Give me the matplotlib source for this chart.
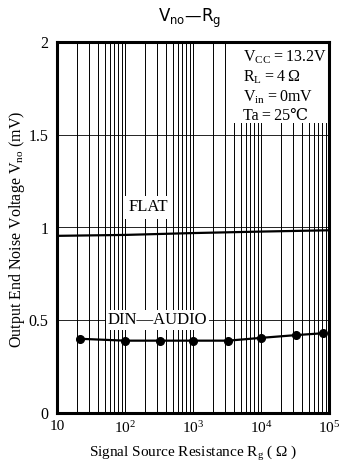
import matplotlib
matplotlib.use("Agg")
import matplotlib.pyplot as plt
from matplotlib.ticker import FixedLocator, NullFormatter
from matplotlib.patches import Rectangle

rg_din = [22, 100, 330, 1000, 3300, 10000, 33000, 82000]
vno_din = [0.40, 0.39, 0.39, 0.39, 0.39, 0.405, 0.42, 0.43]
rg_flat = [10, 100, 1000, 10000, 100000]
vno_flat = [0.955, 0.96, 0.97, 0.978, 0.985]
xticks = [10, 100, 1000, 10000, 100000]
xticklabels = ["10", "10$^2$", "10$^3$", "10$^4$", "10$^5$"]
yticks = [0, 0.5, 1, 1.5, 2]
yticklabels = ["0", "0.5", "1", "1.5", "2"]

plt.rcParams['font.family'] = ['Liberation Serif', 'DejaVu Serif']
plt.rcParams['mathtext.fontset'] = 'custom'
plt.rcParams['mathtext.rm'] = 'Liberation Serif'
plt.rcParams['mathtext.it'] = 'Liberation Serif'

fig = plt.figure(figsize=(3.43, 4.65), dpi=100)
ax = fig.add_axes([57/343, 1 - 413/465, (329-57)/343, (413-42)/465])
ax.set_xscale('log')
ax.set_xlim(10, 1e5)
ax.set_ylim(0, 2)

minor = [m * 10**d for d in range(1, 5) for m in range(2, 10)]
for x in minor + [100, 1000, 10000]:
    ax.axvline(x, color='black', lw=0.7, zorder=1)
for y in [0.5, 1.0, 1.5]:
    ax.axhline(y, color='black', lw=0.6, zorder=1)

ax.plot(rg_flat, vno_flat, color='black', lw=1.6, zorder=3)
ax.plot(rg_din, vno_din, color='black', lw=1.6, marker='o', ms=5.5, zorder=3)

ax.set_xticks(xticks)
ax.set_xticklabels(xticklabels, fontsize=11)
ax.xaxis.set_minor_locator(FixedLocator(minor))
ax.xaxis.set_minor_formatter(NullFormatter())
ax.set_yticks(yticks)
ax.set_yticklabels(yticklabels, fontsize=11.5)
ax.tick_params(axis='x', which='both', length=0, pad=5)
ax.tick_params(axis='y', which='both', length=0, pad=6)
for s in ax.spines.values():
    s.set_linewidth(2.2)
    s.set_zorder(5)

ax.add_patch(Rectangle((0.636, 0.782), 0.364, 0.218, transform=ax.transAxes,
                       facecolor='white', edgecolor='none', zorder=4))
ax.text(0.684, 0.982,
        "V$_{\\rm CC}$\u2009=\u200913.2V\nR$_{\\rm L}$\u2009=\u20094\u2009\u03a9\nV$_{\\rm in}$\u2009=\u20090mV\nTa\u2009=\u200925\u2103",
        transform=ax.transAxes, ha='left', va='top', fontsize=11.5, linespacing=1.2,
        zorder=4.5)
ax.text(220, 1.11, "FLAT", ha='center', va='center', fontsize=12,
        bbox=dict(facecolor='white', edgecolor='none', pad=2.5), zorder=4)
ax.text(300, 0.5, "DIN\u2014AUDIO", ha='center', va='center', fontsize=12,
        bbox=dict(facecolor='white', edgecolor='none', pad=1.5), zorder=4)

fig.text(190/343, 1 - 18/465, "V$_{\\rm no}$\u2014R$_{\\rm g}$", ha='center', va='center',
         fontsize=12, family=['DejaVu Sans'], math_fontfamily='dejavusans')
fig.text(193/343, 1 - 453/465, "Signal Source Resistance R$_{\\rm g}$ ( \u03a9 )",
         ha='center', va='center', fontsize=11)
fig.text(17/343, 1 - 229/465, "Output End Noise Voltage V$_{\\rm no}$ (mV)",
         ha='center', va='center', rotation=90, fontsize=11.5)

fig.savefig("out.png", dpi=100)
